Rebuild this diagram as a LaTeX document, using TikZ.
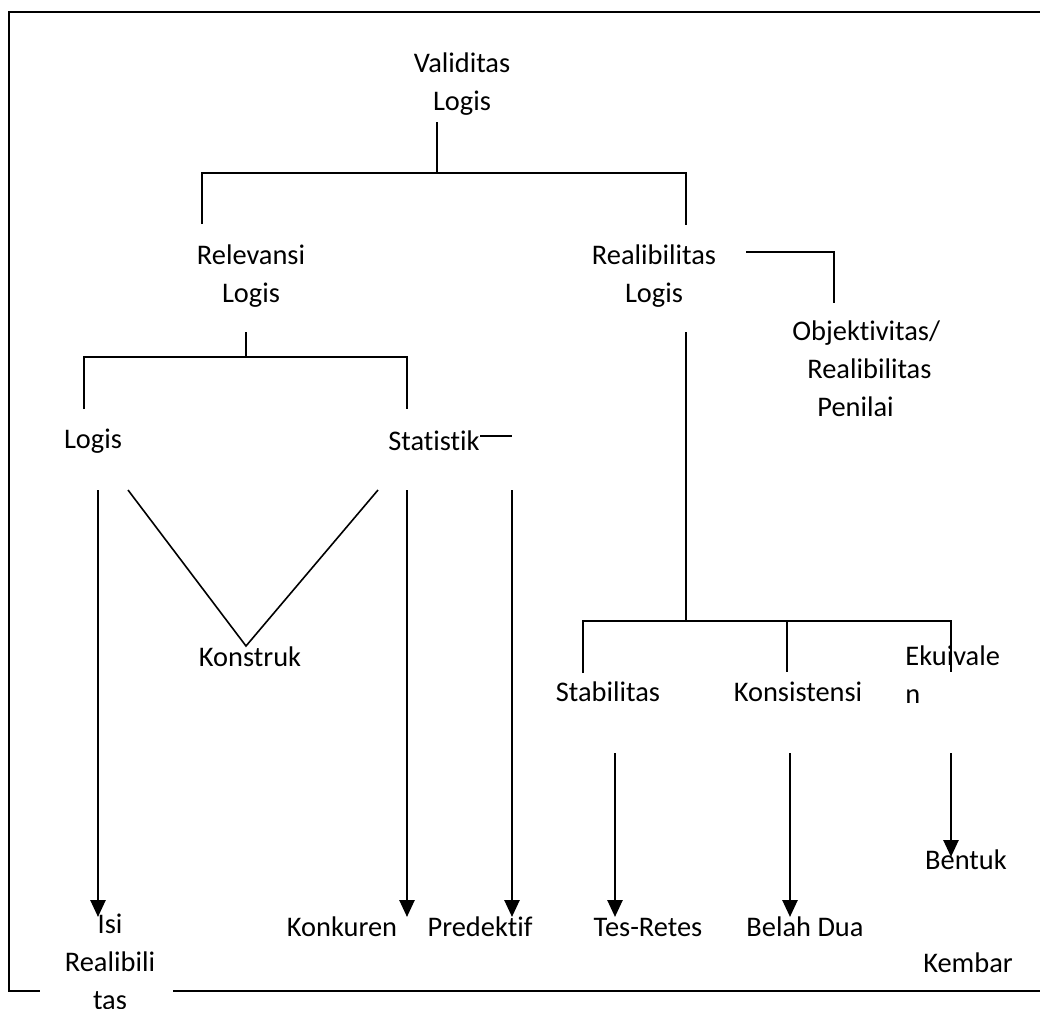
\documentclass[tikz,border=0pt]{standalone}
\usepackage{fontspec}
\setmainfont{Carlito}[Ligatures=NoCommon]
\usetikzlibrary{arrows.meta}
\begin{document}
\begin{tikzpicture}[x=0.5pt, y=-0.5pt,
      font=\fontsize{14.2}{19}\selectfont,
      every node/.style={align=center, inner sep=0pt},
      lbl/.style={align=left, anchor=west},
      link/.style={line width=0.8pt},
      arr/.style={line width=1.3pt, -{Triangle[width=7.5pt,length=8.5pt]}},
      frame/.style={line width=0.8pt}]
    \useasboundingbox (0,0) rectangle (1040,1008);
    \draw[frame] (1040,12) -- (9,12) -- (9,991) -- (40,991);
    \draw[frame] (173,991) -- (1040,991);
    \node (vl)     at (462,84)  {Validitas\\Logis};
    \node (rel)    at (251,276) {Relevansi\\Logis};
    \node (real)   at (654,276) {Realibilitas\\Logis};
    \node[lbl] (obj) at (792,369) {Objektivitas/\\\hspace*{7.5pt}Realibilitas\\\hspace*{12.5pt}Penilai};
    \node (logis)  at (93,441)  {Logis};
    \node (stat)   at (434,441) {Statistik};
    \node (kons)   at (250,657) {Konstruk};
    \node (stab)   at (608,692) {Stabilitas};
    \node (konsis) at (798,692) {Konsistensi};
    \node[lbl] (ekui) at (905,675) {Ekuivale\\n};
    \node (isi)    at (110,962) {Isi\\Realibili\\tas};
    \node (konk)   at (342,927) {Konkuren};
    \node (pred)   at (480,927) {Predektif};
    \node (tes)    at (648,927) {Tes-Retes};
    \node (belah)  at (805,927) {Belah Dua};
    \node (bentuk) at (966,860) {Bentuk};
    \node (kembar) at (968,963) {Kembar};
    \draw[link] (vl.center) ++(-25,38) -- ++(0,51);
    \draw[link] (rel.center) ++(-49,-52) |- ([shift={(-25,89)}]vl.center) -| ([shift={(32,-51)}]real.center);
    \draw[link] (rel.center) ++(-5,56) -- ++(0,25);
    \draw[link] (logis.center) ++(-9,-32) |- ([shift={(-5,81)}]rel.center) -| ([shift={(-27,-32)}]stat.center);
    \draw[link] (stat.center) ++(46,-5) -- ++(32,0);
    \draw[link] (logis.center) ++(35,49) -- ([shift={(-4,-11)}]kons.center) -- ([shift={(-56,49)}]stat.center);
    \draw[arr] (logis.center) ++(5,49) -- ([shift={(-12,-45)}]isi.center);
    \draw[arr] (stat.center) ++(-27,49) -- ([shift={(65,-10)}]konk.center);
    \draw[arr] (stat.center) ++(78,49) -- ([shift={(32,-10)}]pred.center);
    \draw[link] (real.center) ++(92,-24) -| ([shift={(42,-66)}]obj.west);
    \draw[link] (real.center) ++(32,56) -- ++(0,289);
    \draw[link] (stab.center) ++(-25,-19) |- ([shift={(32,345)}]real.center) -| ([shift={(46,-3)}]ekui.west);
    \draw[link] (konsis.center) ++(-11,-71) -- ++(0,51);
    \draw[arr] (stab.center) ++(7,61) -- ([shift={(-33,-10)}]tes.center);
    \draw[arr] (konsis.center) ++(-8,61) -- ([shift={(-15,-10)}]belah.center);
    \draw[arr] (ekui.west) ++(46,78) -- ([shift={(-15,-3)}]bentuk.center);
  \end{tikzpicture}
\end{document}
